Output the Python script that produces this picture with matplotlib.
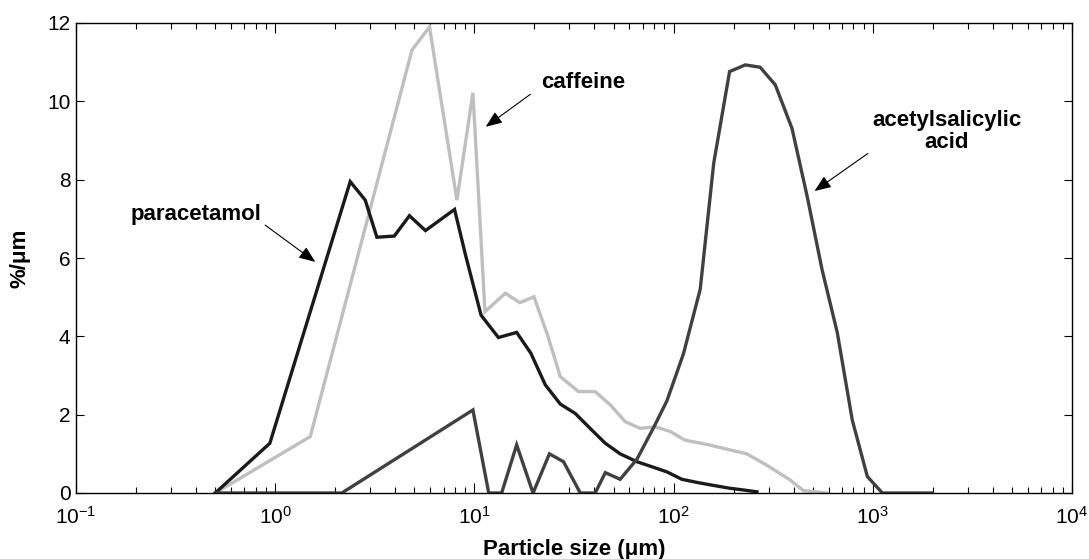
import matplotlib
matplotlib.use("Agg")
import matplotlib.pyplot as plt
from matplotlib.ticker import LogLocator, FixedLocator, NullFormatter

plt.rcParams['font.family'] = ['Liberation Sans', 'DejaVu Sans']
plt.rcParams['mathtext.default'] = 'regular'

# ---- data ----
para_x = [0.5, 0.94, 2.38, 2.83, 3.24, 3.96, 4.72, 5.68, 7.95, 9.0, 10.8, 13.2, 16.3,
          19.2, 22.7, 27.0, 32.1, 38.1, 45.4, 53.9, 65.4, 77.8, 92.5, 110, 131, 156,
          192, 222, 262]
para_y = [0, 1.27, 7.95, 7.48, 6.53, 6.56, 7.08, 6.70, 7.24, 6.1, 4.54, 3.97, 4.10,
          3.57, 2.76, 2.27, 2.03, 1.65, 1.27, 1.0, 0.80, 0.67, 0.54, 0.35, 0.27, 0.2,
          0.12, 0.08, 0.03]

caf_x = [0.5, 1.5, 4.86, 5.95, 8.17, 9.83, 11.3, 14.3, 16.9, 19.9, 23.3, 27.0, 33.3,
         40.4, 48.1, 57.2, 68, 80.9, 96.2, 114, 150, 192, 233, 294, 385, 449, 589]
caf_y = [0, 1.44, 11.31, 11.9, 7.48, 10.22, 4.63, 5.10, 4.86, 5.01, 4.03, 2.97, 2.59,
         2.59, 2.25, 1.82, 1.65, 1.69, 1.57, 1.35, 1.23, 1.10, 1.0, 0.71, 0.33, 0.06, 0.0]

asa_x = [0.5, 2.16, 9.83, 11.8, 13.7, 16.3, 19.7, 23.8, 28.0, 34.0, 40.4, 45.4, 53.9,
         65.4, 79, 92.5, 112, 136, 159, 191, 229, 272, 324, 393, 468, 557, 663, 789,
         939, 1117, 1982]
asa_y = [0, 0, 2.12, 0, 0, 1.23, 0, 1.0, 0.8, 0, 0, 0.52, 0.35, 0.86, 1.65, 2.35, 3.55,
         5.2, 8.42, 10.76, 10.93, 10.87, 10.42, 9.31, 7.58, 5.69, 4.1, 1.86, 0.42, 0, 0]

y_ticks = [0, 2, 4, 6, 8, 10, 12]
x_ticks = [1e-1, 1e0, 1e1, 1e2, 1e3, 1e4]
x_ticklabels = ['$10^{-1}$', '$10^{0}$', '$10^{1}$', '$10^{2}$', '$10^{3}$', '$10^{4}$']

fig = plt.figure(figsize=(10.89, 5.59), dpi=100)
ax = fig.add_axes([76 / 1089, 1 - 493 / 559, (1072 - 76) / 1089, (493 - 23) / 559])

lw = 2.4
ax.plot(caf_x, caf_y, color='#bfbfbf', lw=lw, solid_joinstyle='miter')
ax.plot(para_x, para_y, color='#1a1a1a', lw=lw, solid_joinstyle='miter')
ax.plot(asa_x, asa_y, color='#404040', lw=lw, solid_joinstyle='miter')

ax.set_xscale('log')
ax.set_xlim(1e-1, 1e4)
ax.set_ylim(0, 12)
ax.xaxis.set_major_locator(FixedLocator(x_ticks))
ax.set_xticklabels(x_ticklabels)
ax.xaxis.set_minor_locator(LogLocator(base=10, subs=range(2, 10), numticks=20))
ax.xaxis.set_minor_formatter(NullFormatter())
ax.set_yticks(y_ticks)

ax.tick_params(axis='both', which='both', direction='in', top=True, right=True,
               labelsize=15, color='black', width=0.8)
ax.tick_params(axis='x', which='major', length=7, pad=9)
ax.tick_params(axis='x', which='minor', length=4)
ax.tick_params(axis='y', which='major', length=6, pad=4)
for s in ax.spines.values():
    s.set_linewidth(1.0)

ax.set_xlabel('Particle size (μm)', fontsize=16, fontweight='bold', labelpad=8)
ax.set_ylabel('%/μm', fontsize=16, fontweight='bold', labelpad=12)

ap = dict(arrowstyle='-|>,head_length=1.0,head_width=0.4', lw=0.8, color='black',
          shrinkA=0, shrinkB=0)
tfs = 16
ax.annotate('', xy=(1.59, 5.9), xytext=(0.89, 6.84), arrowprops=ap)
ax.text(0.85, 7.1, 'paracetamol', fontsize=tfs, fontweight='bold', ha='right', va='center')

ax.annotate('', xy=(11.4, 9.35), xytext=(19.1, 10.18), arrowprops=ap)
ax.text(35.2, 10.47, 'caffeine', fontsize=tfs, fontweight='bold', ha='center', va='center')

ax.annotate('', xy=(510, 7.71), xytext=(945, 8.67), arrowprops=ap)
ax.text(2350, 9.22, 'acetylsalicylic\nacid', fontsize=tfs, fontweight='bold',
        ha='center', va='center', linespacing=1.05)

fig.savefig('out.png', dpi=100)
